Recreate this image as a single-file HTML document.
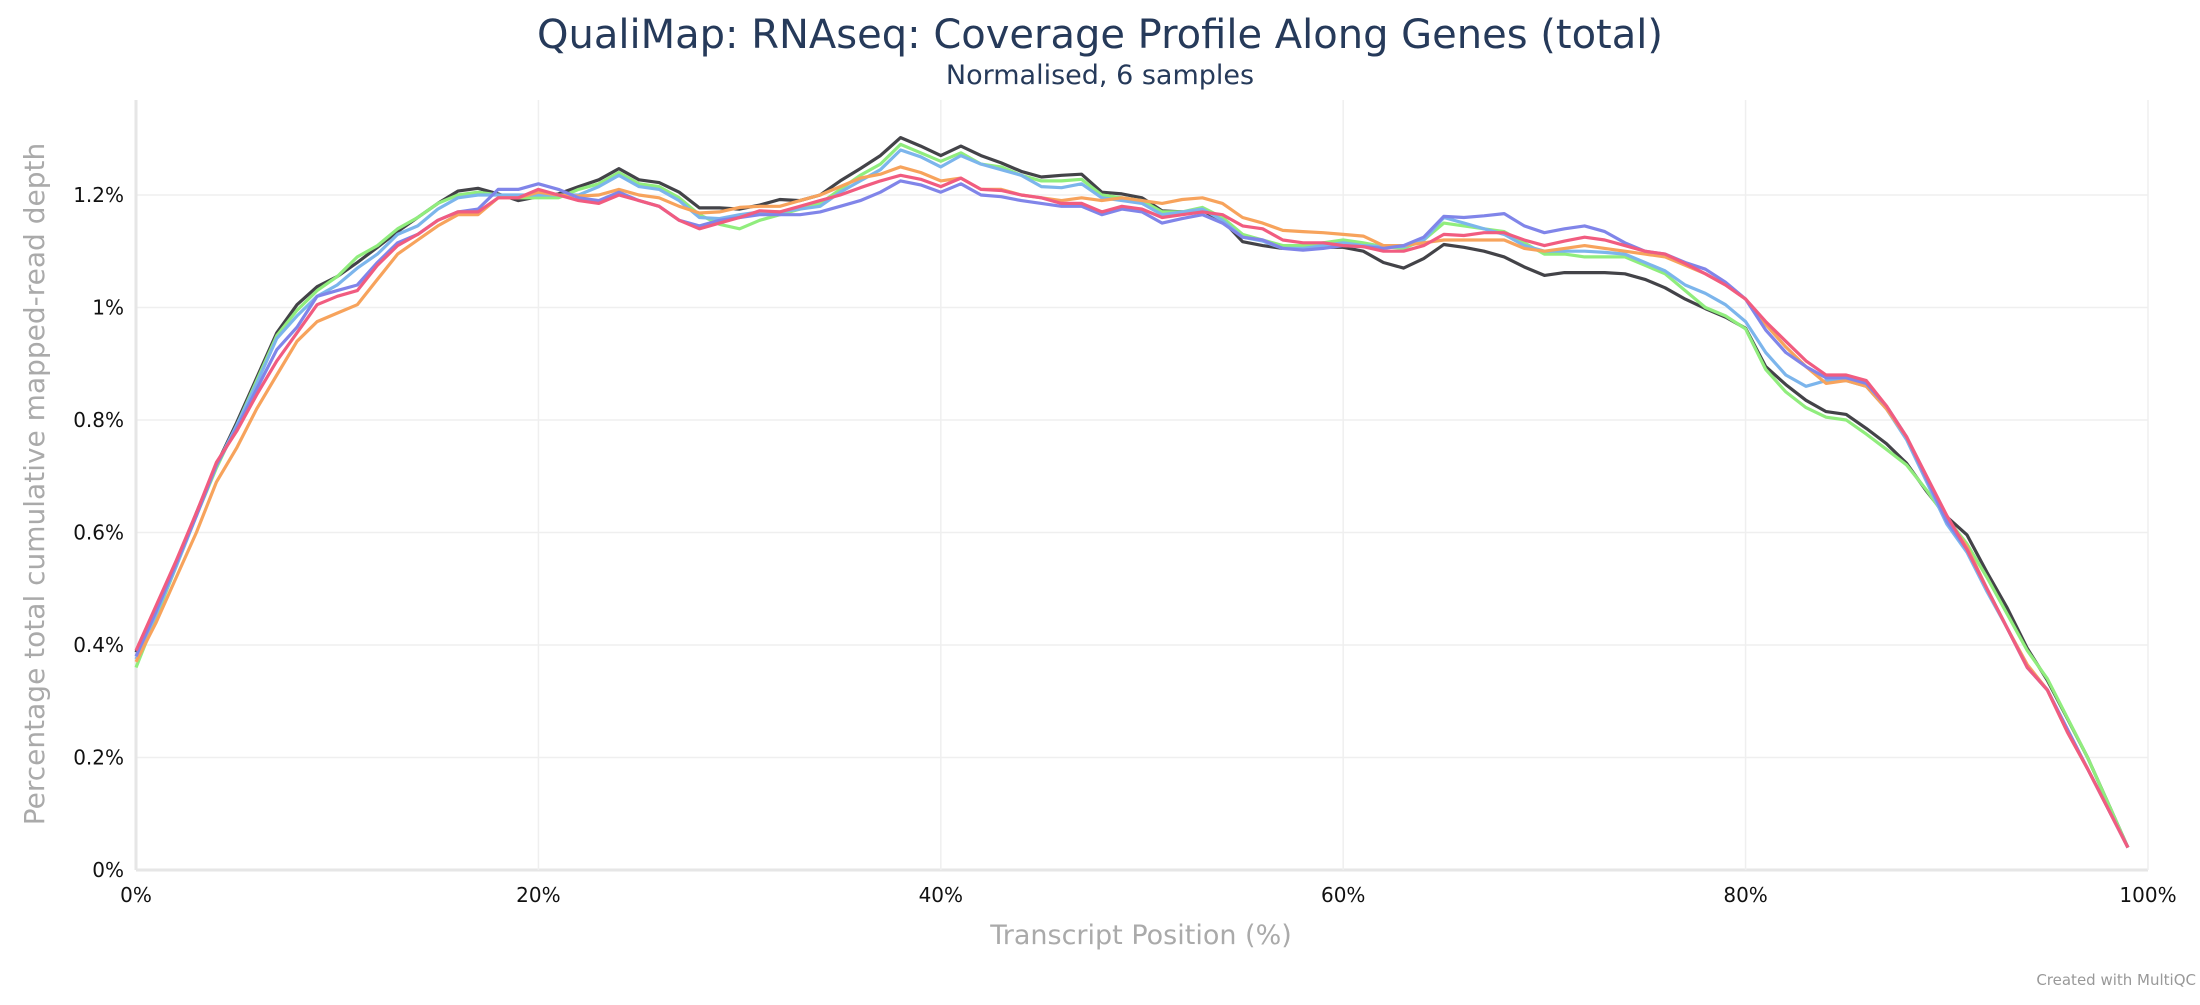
<!DOCTYPE html>
<html><head><meta charset="utf-8"><style>
body{margin:0;background:#fff;width:2200px;height:1000px;overflow:hidden;font-family:"Liberation Sans",sans-serif}
svg text{font-family:"DejaVu Sans","Liberation Sans",sans-serif}
</style></head><body>
<svg id="chart" width="2200" height="1000" xmlns="http://www.w3.org/2000/svg">
<text x="1100" y="48" text-anchor="middle" font-size="40" fill="#263a5a">QualiMap: RNAseq: Coverage Profile Along Genes (total)</text>
<text x="1100" y="84" text-anchor="middle" font-size="27" fill="#263a5a">Normalised, 6 samples</text>
<g id="grid"></g>
<g id="series"></g>
<text x="1141" y="944" text-anchor="middle" font-size="27" fill="#aaa">Transcript Position (%)</text>
<text transform="translate(44,484) rotate(-90)" text-anchor="middle" font-size="28" fill="#aaa">Percentage total cumulative mapped-read depth</text>
<text x="2196" y="985" text-anchor="end" font-size="15" fill="#999">Created with MultiQC</text>
</svg>
<script>
const xTicks=[0,20,40,60,80,100];
const yTicks=[0,0.2,0.4,0.6,0.8,1,1.2];
const colors=["#434348","#90ed7d","#7cb5ec","#f7a35c","#8085e9","#f15c80"];
const sBlack=[0.387,0.465,0.545,0.635,0.72,0.795,0.875,0.955,1.005,1.037,1.055,1.08,1.107,1.135,1.16,1.185,1.207,1.212,1.202,1.19,1.197,1.202,1.215,1.227,1.247,1.227,1.222,1.205,1.177,1.177,1.175,1.182,1.192,1.19,1.2,1.225,1.247,1.27,1.302,1.287,1.27,1.287,1.27,1.257,1.242,1.232,1.235,1.237,1.205,1.202,1.195,1.172,1.17,1.172,1.155,1.117,1.11,1.105,1.105,1.107,1.107,1.1,1.08,1.07,1.087,1.112,1.107,1.1,1.09,1.072,1.057,1.062,1.062,1.062,1.06,1.05,1.035,1.015,0.998,0.983,0.963,0.895,0.863,0.835,0.815,0.81,0.785,0.758,0.723,0.673,0.628,0.596,0.529,0.466,0.394,0.337,0.269,0.2,0.12,0.04];
const sGreen=[0.36,0.45,0.54,0.63,0.715,0.79,0.87,0.95,0.995,1.03,1.055,1.09,1.11,1.14,1.16,1.185,1.2,1.205,1.2,1.195,1.195,1.195,1.21,1.22,1.24,1.22,1.215,1.195,1.165,1.148,1.14,1.155,1.165,1.175,1.185,1.21,1.235,1.255,1.29,1.275,1.26,1.275,1.255,1.25,1.235,1.225,1.225,1.228,1.2,1.195,1.19,1.17,1.17,1.178,1.16,1.13,1.12,1.11,1.11,1.115,1.12,1.115,1.108,1.105,1.12,1.15,1.145,1.14,1.135,1.115,1.095,1.095,1.09,1.09,1.09,1.075,1.06,1.03,1.0,0.985,0.962,0.89,0.85,0.822,0.805,0.8,0.775,0.748,0.72,0.675,0.625,0.58,0.52,0.455,0.39,0.34,0.27,0.2,0.12,0.04];
const sBlue=[0.375,0.455,0.54,0.63,0.72,0.79,0.865,0.945,0.985,1.02,1.04,1.07,1.095,1.13,1.145,1.175,1.195,1.2,1.2,1.2,1.2,1.2,1.2,1.215,1.235,1.215,1.21,1.19,1.16,1.158,1.165,1.17,1.17,1.175,1.18,1.205,1.225,1.245,1.28,1.268,1.25,1.27,1.255,1.245,1.235,1.215,1.213,1.22,1.195,1.19,1.185,1.165,1.17,1.175,1.155,1.125,1.118,1.105,1.105,1.11,1.115,1.11,1.108,1.108,1.12,1.16,1.15,1.14,1.13,1.11,1.1,1.1,1.1,1.098,1.095,1.08,1.065,1.04,1.025,1.005,0.975,0.92,0.88,0.86,0.87,0.87,0.86,0.82,0.765,0.69,0.615,0.565,0.495,0.43,0.36,0.32,0.245,0.18,0.11,0.04];
const sOrange=[0.37,0.44,0.52,0.6,0.69,0.75,0.82,0.88,0.94,0.975,0.99,1.005,1.05,1.095,1.12,1.145,1.165,1.165,1.195,1.195,1.205,1.2,1.198,1.2,1.21,1.2,1.195,1.18,1.168,1.17,1.178,1.18,1.18,1.19,1.2,1.215,1.23,1.237,1.25,1.24,1.225,1.23,1.21,1.21,1.2,1.195,1.19,1.195,1.19,1.195,1.19,1.185,1.192,1.195,1.185,1.16,1.15,1.137,1.135,1.133,1.13,1.127,1.11,1.11,1.115,1.12,1.12,1.12,1.12,1.105,1.1,1.105,1.11,1.105,1.1,1.095,1.09,1.075,1.06,1.04,1.015,0.97,0.93,0.895,0.865,0.87,0.86,0.82,0.77,0.695,0.625,0.575,0.5,0.43,0.365,0.32,0.245,0.18,0.11,0.04];
const sPurple=[0.38,0.46,0.545,0.63,0.72,0.785,0.855,0.925,0.965,1.02,1.03,1.04,1.08,1.115,1.13,1.155,1.17,1.175,1.21,1.21,1.22,1.21,1.195,1.19,1.205,1.19,1.18,1.155,1.145,1.155,1.16,1.165,1.165,1.165,1.17,1.18,1.19,1.205,1.225,1.218,1.205,1.22,1.2,1.197,1.19,1.185,1.18,1.18,1.165,1.175,1.17,1.15,1.158,1.165,1.15,1.125,1.12,1.105,1.102,1.105,1.11,1.108,1.105,1.11,1.125,1.162,1.16,1.163,1.167,1.145,1.133,1.14,1.145,1.135,1.115,1.1,1.095,1.08,1.068,1.045,1.015,0.96,0.92,0.895,0.875,0.875,0.865,0.825,0.77,0.695,0.62,0.57,0.5,0.43,0.36,0.32,0.25,0.18,0.11,0.04];
const sRed=[0.39,0.47,0.55,0.635,0.725,0.78,0.845,0.905,0.955,1.005,1.02,1.03,1.075,1.11,1.13,1.155,1.17,1.17,1.195,1.195,1.21,1.2,1.19,1.185,1.2,1.19,1.18,1.155,1.14,1.15,1.16,1.172,1.17,1.18,1.19,1.2,1.213,1.225,1.235,1.228,1.215,1.23,1.21,1.208,1.2,1.195,1.185,1.185,1.17,1.18,1.175,1.16,1.165,1.17,1.165,1.145,1.14,1.12,1.115,1.115,1.11,1.108,1.1,1.1,1.11,1.13,1.128,1.133,1.133,1.12,1.11,1.118,1.125,1.12,1.11,1.1,1.095,1.078,1.06,1.04,1.015,0.975,0.94,0.905,0.88,0.88,0.87,0.825,0.77,0.7,0.63,0.57,0.5,0.43,0.36,0.32,0.245,0.18,0.11,0.04];
const seriesList=[sBlack,sGreen,sBlue,sOrange,sPurple,sRed];
const seriesNames=["sample-1","sample-2","sample-3","sample-4","sample-5","sample-6"];
const X0=136,X1=2148,Y0=870,Y1=195;
const xs=v=>X0+(X1-X0)*v/100;
const ys=v=>Y0-(Y0-Y1)*v/1.2;
const NS="http://www.w3.org/2000/svg";
const grid=document.getElementById('grid');
function mk(t,a){const e=document.createElementNS(NS,t);for(const k in a)e.setAttribute(k,a[k]);return e;}
yTicks.forEach(t=>{
  const l=mk('line',{x1:X0,x2:X1,y1:ys(t),y2:ys(t),stroke:t===0?'#e6e6e6':'#efefef','stroke-width':t===0?3:1.5});
  
  
  grid.appendChild(l);
  const tx=mk('text',{x:X0-12,y:ys(t)+7,'text-anchor':'end','font-size':20,fill:'#111'});
  tx.textContent=(t===0?'0':(t===1?'1':t.toFixed(1)))+'%';
  
  
  grid.appendChild(tx);
});
xTicks.forEach(t=>{
  const l=mk('line',{x1:xs(t),x2:xs(t),y1:100,y2:Y0,stroke:t===0?'#e6e6e6':'#efefef','stroke-width':t===0?3:1.5});
  
  
  grid.appendChild(l);
  const tx=mk('text',{x:xs(t),y:902,'text-anchor':'middle','font-size':20,fill:'#111'});
  tx.textContent=t+'%';
  
  
  grid.appendChild(tx);
});
const sg=document.getElementById('series');
seriesList.forEach((s,i)=>{
  const d=s.map((v,j)=>(j?'L':'M')+xs(j).toFixed(1)+','+ys(v).toFixed(1)).join('');
  const p=mk('path',{d:d,fill:'none',stroke:colors[i],'stroke-width':3.2,'stroke-linejoin':'round'});
  
  
  sg.appendChild(p);
});
</script>
</body></html>
